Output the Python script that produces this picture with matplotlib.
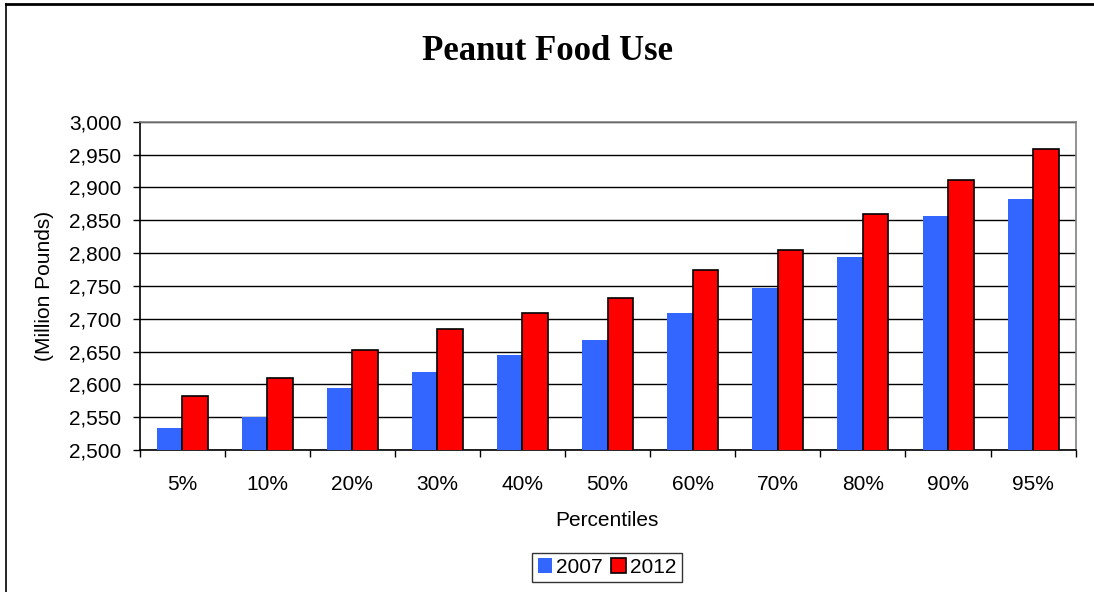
import matplotlib
matplotlib.use("Agg")
import matplotlib.pyplot as plt
import numpy as np
from matplotlib.ticker import FuncFormatter, FixedLocator
from matplotlib.lines import Line2D

categories = ["5%", "10%", "20%", "30%", "40%", "50%", "60%", "70%", "80%", "90%", "95%"]
series_2007 = [2533, 2551, 2595, 2619, 2645, 2668, 2709, 2747, 2794, 2856, 2882]
series_2012 = [2583, 2609, 2652, 2684, 2709, 2731, 2774, 2805, 2859, 2911, 2959]

plt.rcParams['font.family'] = ['Liberation Sans', 'DejaVu Sans']

W, H = 1094, 592
fs = 15
fig = plt.figure(figsize=(W / 100, H / 100), dpi=100)
ax0, ax1, ay0, ay1 = 139.5, 1075.7, 121.7, 450
ax = fig.add_axes([ax0 / W, 1 - ay1 / H, (ax1 - ax0) / W, (ay1 - ay0) / H])

x = np.arange(len(categories))
bw = 0.3
ax.bar(x - bw / 2, series_2007, bw, color="#3366FF", label="2007", zorder=3, linewidth=0)
ax.bar(x + bw / 2, series_2012, bw, color="#FF0000", edgecolor="black", linewidth=1.2,
       label="2012", zorder=3)

ax.set_ylim(2500, 3000)
ax.set_xlim(-0.5, len(categories) - 0.5)
ax.set_yticks(np.arange(2500, 3001, 50))
ax.yaxis.set_major_formatter(FuncFormatter(lambda v, p: f"{int(v):,}"))
ax.grid(axis="y", color="black", linewidth=1.0, zorder=0)
ax.set_axisbelow(True)

ax.set_xticks(x)
ax.set_xticklabels(categories)
ax.tick_params(axis="x", length=0, pad=18, labelsize=fs)
ax.xaxis.set_minor_locator(FixedLocator(np.arange(-0.5, len(categories), 1.0)))
ax.tick_params(axis="x", which="minor", length=5, width=1, direction="out", color="black")
ax.tick_params(axis="y", length=5, width=1, direction="out", labelsize=fs, pad=8)

ax.spines["left"].set_color("black")
ax.spines["bottom"].set_color("black")
ax.spines["top"].set_color("#808080")
ax.spines["right"].set_color("#808080")
for s in ax.spines.values():
    s.set_linewidth(1.2)

ax.set_xlabel("Percentiles", fontsize=fs)
ax.xaxis.set_label_coords((607 - ax0) / (ax1 - ax0), -(520 - ay1) / (ay1 - ay0))
ax.xaxis.label.set_va("center")
ax.set_ylabel("(Million Pounds)", fontsize=fs)
ax.yaxis.set_label_coords(-(ax0 - 45) / (ax1 - ax0), 0.5)
ax.yaxis.label.set_va("center")

fig.text(0.5, 1 - 52 / H, "Peanut Food Use", ha="center", va="center",
         fontsize=25, fontweight="bold", family=["Liberation Serif", "DejaVu Serif"])

leg = fig.legend(loc="center", bbox_to_anchor=(607 / W, 1 - 567.5 / H), ncol=2,
                 fontsize=fs, frameon=True, fancybox=False, edgecolor="black",
                 handlelength=0.7, handleheight=0.7, handletextpad=0.2,
                 columnspacing=0.4, borderpad=0.25, borderaxespad=0)
leg.get_frame().set_linewidth(1.0)

# outer chart border (top and left visible; right/bottom lie beyond the image)
fig.add_artist(Line2D([5.5 / W, 1], [1 - 3.5 / H, 1 - 3.5 / H], transform=fig.transFigure,
                      color="black", linewidth=2.0))
fig.add_artist(Line2D([5.5 / W, 5.5 / W], [1 - 3.5 / H, 0], transform=fig.transFigure,
                      color="black", linewidth=1.2))

fig.savefig("out.png", dpi=100)
